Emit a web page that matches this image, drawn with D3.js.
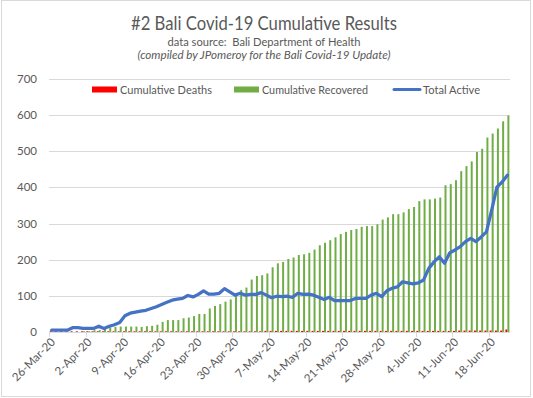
<!DOCTYPE html>
<html>
<head>
<meta charset="utf-8">
<script src="https://cdn.jsdelivr.net/npm/d3@7"></script>
<style>
  body { margin: 0; background: #fff; }
  text { font-family: Lato, "Open Sans", sans-serif; fill: #595959; white-space: pre; }
</style>
</head>
<body>
<div id="chart"></div>
<script>
'use strict';
const width = 533;
const height = 398;

// one category per day, 26-Mar-20 .. 21-Jun-20
const days = d3.timeDay.range(new Date(2020, 2, 26), new Date(2020, 5, 22));

const deaths = [
  2, 2, 2, 2, 2, 2, 2, 2, 2, 2, 2, 2, 2, 2, 2, 2, 2, 2, 2, 2,
  2, 2, 2, 2, 2, 2, 2, 2, 2, 2, 2, 2, 2, 2, 2, 2, 2, 2, 2, 2,
  2, 3, 3, 3, 3, 3, 3, 3, 3, 3, 3, 3, 3, 3, 3, 3, 3, 3, 3, 3,
  3, 3, 3, 3, 3, 3, 3, 3, 3, 3, 3, 3, 3, 3, 3, 3, 3, 3, 4, 4,
  4, 4, 4, 4, 4, 4, 4, 7
];
const recovered = [
  0, 0, 0, 0, 0, 0, 2, 2, 5, 5, 14, 13, 14, 15, 15, 15, 15, 14, 16, 17,
  20, 28, 33, 33, 33, 38, 40, 44, 50, 50, 65, 72, 77, 84, 90, 107, 116, 123, 145, 155,
  157, 162, 179, 190, 194, 202, 206, 213, 215, 219, 228, 240, 247, 254, 262, 271, 277, 282, 285, 291,
  293, 293, 298, 311, 317, 326, 326, 331, 340, 346, 362, 367, 367, 369, 372, 406, 409, 420, 445, 459,
  472, 498, 507, 538, 549, 563, 583, 599
];
const active = [
  5, 5, 5, 5, 12, 12, 10, 10, 10, 16, 10, 16, 20, 26, 45, 52, 55, 58, 60, 65,
  70, 76, 82, 88, 91, 93, 101, 97, 104, 114, 105, 105, 107, 120, 111, 102, 107, 102, 104, 104,
  109, 102, 95, 99, 98, 99, 96, 107, 104, 105, 102, 96, 90, 96, 87, 87, 87, 87, 93, 93,
  93, 102, 107, 98, 114, 121, 125, 139, 136, 133, 136, 144, 176, 194, 208, 190, 219, 227, 236, 250,
  259, 250, 263, 277, 337, 401, 415, 434
];
const tickLabels = ["26-Mar-20", "2-Apr-20", "9-Apr-20", "16-Apr-20", "23-Apr-20", "30-Apr-20",
  "7-May-20", "14-May-20", "21-May-20", "28-May-20", "4-Jun-20", "11-Jun-20", "18-Jun-20"];
const yTicks = [0, 100, 200, 300, 400, 500, 600, 700];
const seriesNames = ["Cumulative Deaths", "Cumulative Recovered", "Total Active"];
const seriesColors = ["#ff0000", "#70ad47", "#4472c4"];

const svg = d3.select("#chart").append("svg")
  .attr("width", width)
  .attr("height", height);

svg.append("rect")
  .attr("x", 1.5).attr("y", 0.5)
  .attr("width", 529).attr("height", 396)
  .attr("fill", "#fff")
  .attr("stroke", "#d9d9d9");

// titles
svg.append("text").attr("x", 264).attr("y", 30)
  .attr("text-anchor", "middle").attr("font-size", 19)
  .attr("textLength", 266).attr("lengthAdjust", "spacingAndGlyphs")
  .text("#2 Bali Covid-19 Cumulative Results");
svg.append("text").attr("x", 264).attr("y", 45.5)
  .attr("text-anchor", "middle").attr("font-size", 12)
  .attr("textLength", 193).attr("lengthAdjust", "spacingAndGlyphs")
  .text("data source:  Bali Department of Health");
svg.append("text").attr("x", 264).attr("y", 59)
  .attr("text-anchor", "middle").attr("font-size", 11.5).attr("font-style", "italic")
  .attr("textLength", 253).attr("lengthAdjust", "spacingAndGlyphs")
  .text("(compiled by JPomeroy for the Bali Covid-19 Update)");

// scales
const x = d3.scaleBand()
  .domain(days.map(d => +d))
  .range([49, 510])
  .paddingInner(0.24)
  .paddingOuter(0.12);
const step = x.step();
const xs = d3.scaleBand()
  .domain([0, 1])
  .range([0, x.bandwidth()]);
const y = d3.scaleLinear()
  .domain([0, 700])
  .range([332, 79]);

// grid + y labels
svg.append("g")
  .selectAll("line")
  .data(yTicks.slice(1))
  .join("line")
  .attr("x1", 49).attr("x2", 510)
  .attr("y1", d => Math.round(y(d)) + 0.5)
  .attr("y2", d => Math.round(y(d)) + 0.5)
  .attr("stroke", "#d9d9d9");
svg.append("g")
  .selectAll("text")
  .data(yTicks)
  .join("text")
  .attr("x", 37)
  .attr("y", d => y(d))
  .attr("dy", "0.35em")
  .attr("text-anchor", "end")
  .attr("font-size", 11.5)
  .text(d => d);

// bars
const bars = svg.append("g");
bars.selectAll(".death")
  .data(deaths)
  .join("rect")
  .attr("x", (d, i) => x(+days[i]) + xs(0))
  .attr("y", d => y(d))
  .attr("width", xs.bandwidth())
  .attr("height", d => y(0) - y(d))
  .attr("fill", seriesColors[0]);
bars.selectAll(".rec")
  .data(recovered)
  .join("rect")
  .attr("x", (d, i) => x(+days[i]) + xs(1))
  .attr("y", d => y(d))
  .attr("width", xs.bandwidth())
  .attr("height", d => y(0) - y(d))
  .attr("fill", seriesColors[1]);

// x axis
svg.append("line")
  .attr("x1", 49).attr("x2", 510)
  .attr("y1", 332.5).attr("y2", 332.5)
  .attr("stroke", "#d9d9d9");
const parseTick = d3.timeParse("%d-%b-%y");
const tickX = s => x(+parseTick(s)) - (step - x.bandwidth()) / 2;
svg.append("g")
  .selectAll("line")
  .data(tickLabels)
  .join("line")
  .attr("x1", d => Math.round(tickX(d)) + 0.5)
  .attr("x2", d => Math.round(tickX(d)) + 0.5)
  .attr("y1", 332).attr("y2", 337)
  .attr("stroke", "#d9d9d9");
svg.append("g")
  .selectAll("text")
  .data(tickLabels)
  .join("text")
  .attr("transform", d => `translate(${tickX(d) + 4},${340}) rotate(-45)`)
  .attr("text-anchor", "end")
  .attr("dy", "0.35em")
  .attr("font-size", 11.5)
  .text(d => d);

// active line
const line = d3.line()
  .x((d, i) => x(+days[i]) + x.bandwidth() / 2)
  .y(d => y(d));
svg.append("path")
  .attr("d", line(active))
  .attr("fill", "none")
  .attr("stroke", seriesColors[2])
  .attr("stroke-width", 3.25)
  .attr("stroke-linejoin", "round")
  .attr("stroke-linecap", "round");

// legend
const legendX = [92, 234, 393];
const legendLen = [92, 106, 57];
const legend = svg.append("g");
legend.selectAll("rect")
  .data(seriesNames.slice(0, 2))
  .join("rect")
  .attr("x", (d, i) => legendX[i])
  .attr("y", 86.5)
  .attr("width", 25).attr("height", 6)
  .attr("fill", (d, i) => seriesColors[i]);
legend.append("line")
  .attr("x1", legendX[2] + 1).attr("x2", legendX[2] + 27)
  .attr("y1", 89.5).attr("y2", 89.5)
  .attr("stroke", seriesColors[2])
  .attr("stroke-width", 3)
  .attr("stroke-linecap", "round");
legend.selectAll("text")
  .data(seriesNames)
  .join("text")
  .attr("x", (d, i) => legendX[i] + (i == 2 ? 30 : 28))
  .attr("y", 89.5)
  .attr("dy", "0.35em")
  .attr("font-size", 12)
  .attr("textLength", (d, i) => legendLen[i])
  .attr("lengthAdjust", "spacingAndGlyphs")
  .text(d => d);
</script>
</body>
</html>
